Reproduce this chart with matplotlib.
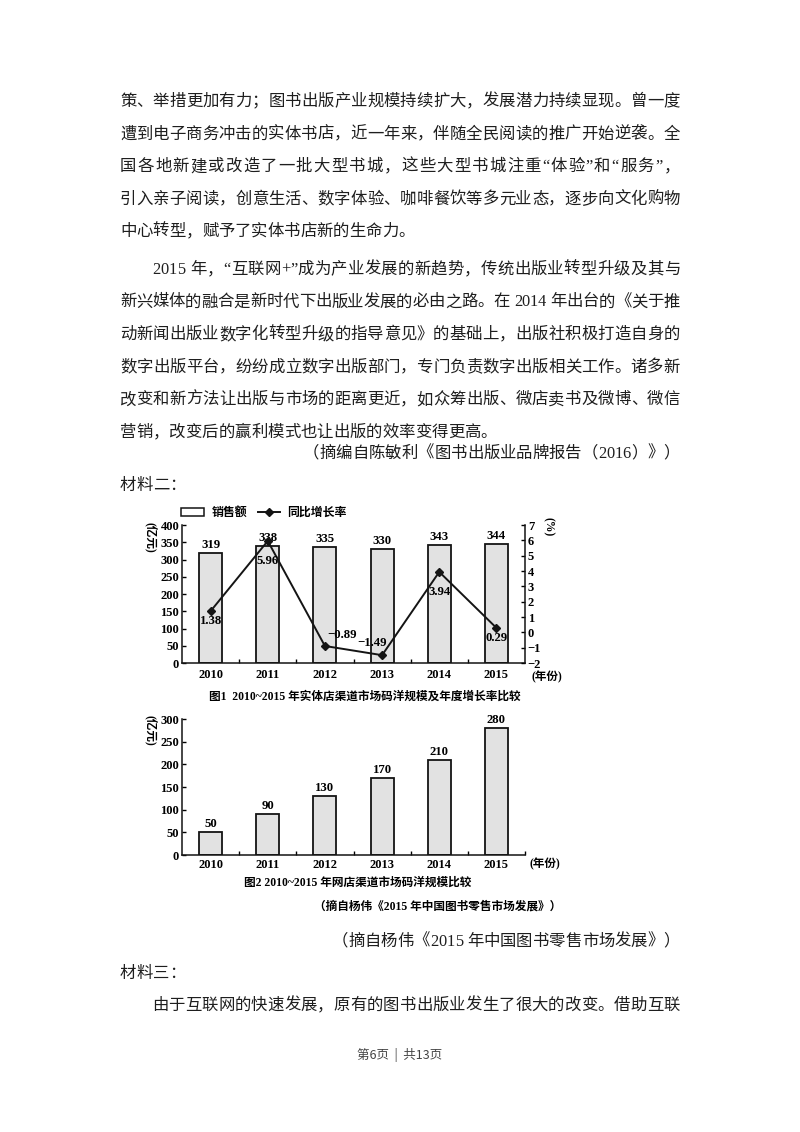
import matplotlib
matplotlib.use('Agg')
import matplotlib.pyplot as plt
from matplotlib.lines import Line2D
from matplotlib.patches import Patch

W, H = 800, 1132

# chart data
years = ['2010', '2011', '2012', '2013', '2014', '2015']
store_sales = [319, 338, 335, 330, 343, 344]
store_growth = [1.38, 5.96, -0.89, -1.49, 3.94, 0.29]
online_sales = [50, 90, 130, 170, 210, 280]
sales_ticks = [0, 50, 100, 150, 200, 250, 300, 350, 400]
growth_ticks = [-2, -1, 0, 1, 2, 3, 4, 5, 6, 7]
online_ticks = [0, 50, 100, 150, 200, 250, 300]

# page text
para1 = ['策、举措更加有力；图书出版产业规模持续扩大，发展潜力持续显现。曾一度',
         '遭到电子商务冲击的实体书店，近一年来，伴随全民阅读的推广开始逆袭。全',
         '国各地新建或改造了一批大型书城，这些大型书城注重“体验”和“服务”，',
         '引入亲子阅读，创意生活、数字体验、咖啡餐饮等多元业态，逐步向文化购物',
         '中心转型，赋予了实体书店新的生命力。']
para2 = ['2015 年，“互联网+”成为产业发展的新趋势，传统出版业转型升级及其与',
         '新兴媒体的融合是新时代下出版业发展的必由之路。在 2014 年出台的《关于推',
         '动新闻出版业数字化转型升级的指导意见》的基础上，出版社积极打造自身的',
         '数字出版平台，纷纷成立数字出版部门，专门负责数字出版相关工作。诸多新',
         '改变和新方法让出版与市场的距离更近，如众筹出版、微店卖书及微博、微信',
         '营销，改变后的赢利模式也让出版的效率变得更高。']
cite1 = '（摘编自陈敏利《图书出版业品牌报告（2016）》）'
label2 = '材料二：'
cite2 = '（摘自杨伟《2015 年中国图书零售市场发展》）'
label3 = '材料三：'
para3 = ['由于互联网的快速发展，原有的图书出版业发生了很大的改变。借助互联']
footer = '第6页  |  共13页'

cap1 = '图1  2010~2015 年实体店渠道市场码洋规模及年度增长率比较'
cap2 = '图2 2010~2015 年网店渠道市场码洋规模比较'
cap_src = '（摘自杨伟《2015 年中国图书零售市场发展》）'

SERIF = ['Liberation Serif', 'Noto Sans CJK SC']
INK = '#1e1e1e'
BODY = 11.8


def fx(x):
    return x / W


def fy(y):
    return 1 - y / H


def char_em(ch):
    o = ord(ch)
    if o >= 0x2E80 or 0x3000 <= o <= 0x303F:
        return 1.0
    if ch == ' ':
        return 0.25
    if ch in '“”':
        return 0.44
    if ch == '+':
        return 0.56
    return 0.5


def put_line(fig, s, x0, yc, x1=None, size=BODY, align='left'):
    em = size * 100 / 72
    widths = [char_em(c) * em for c in s]
    gap = 0.0
    if x1 is not None and align == 'justify' and len(s) > 1:
        gap = (x1 - x0 - sum(widths)) / (len(s) - 1)
    if align == 'right':
        x0 = x1 - sum(widths)
    x = x0
    base = yc + em * 0.36
    for c, w in zip(s, widths):
        if c != ' ':
            fig.text(fx(x), fy(base), c, fontsize=size, family=SERIF,
                     va='baseline', ha='left', color=INK)
        x += w + gap


fig = plt.figure(figsize=(W / 100, H / 100), dpi=100)
fig.patch.set_facecolor('white')

L, R, IND = 120, 680, 152
step = 32.6
y = 100
for i, s in enumerate(para1):
    last = i == len(para1) - 1
    put_line(fig, s, L, y, R, align='left' if last else 'justify')
    y += step
y = 268
for i, s in enumerate(para2):
    last = i == len(para2) - 1
    put_line(fig, s, IND if i == 0 else L, y, R, align='left' if last else 'justify')
    y += step
put_line(fig, cite1, L, 452, R, align='right')
put_line(fig, label2, L, 484)
put_line(fig, cite2, L, 940, R, align='right')
put_line(fig, label3, L, 972)
put_line(fig, para3[0], IND, 1004, R, align='justify')

fig.text(0.5, fy(1055), footer, ha='center', va='center', fontsize=9,
         family=['Noto Sans CJK SC', 'DejaVu Sans'], color='#444444')

# ---- chart 1 ----
TICK = dict(family=['Liberation Serif', 'Noto Sans CJK SC'], weight='bold', size=9)
VAL = dict(family=['Liberation Serif', 'Noto Sans CJK SC'], weight='bold', size=9.2)
CAP = dict(family=['Liberation Serif', 'Noto Sans CJK SC'], weight='bold', size=8.4)
BAR = '#e2e2e2'
EDGE = '#141414'
xs = list(range(len(years)))

ax1 = fig.add_axes([fx(182), fy(663), (525 - 182) / W, 138 / H])
ax1.bar(xs, store_sales, width=0.4, color=BAR, edgecolor=EDGE, linewidth=1.3, zorder=2)
ax1.set_xlim(-0.5, 5.5)
ax1.set_ylim(0, 400)
ax1.set_yticks(sales_ticks)
ax1.set_yticklabels([str(v) for v in sales_ticks], **TICK)
ax1.set_xticks(xs)
ax1.set_xticklabels(years, **TICK)
ax1.set_xticks([i + 0.5 for i in xs[:-1]], minor=True)
ax1.tick_params(axis='x', which='major', length=0, pad=4)
ax1.tick_params(axis='x', which='minor', direction='in', length=3, width=1)
ax1.tick_params(axis='y', direction='in', length=3, width=1, pad=2)
for s in ['top', 'right']:
    ax1.spines[s].set_visible(False)
for s in ['left', 'bottom']:
    ax1.spines[s].set_linewidth(1.1)
    ax1.spines[s].set_color(EDGE)
for i, v in enumerate(store_sales):
    ax1.annotate(str(v), (i, v), xytext=(0, 2), textcoords='offset pixels',
                 ha='center', va='bottom', **VAL)

ax1r = ax1.twinx()
ax1r.set_ylim(-2, 7)
ax1r.set_yticks(growth_ticks)
ax1r.set_yticklabels([str(v).replace('-', '−') for v in growth_ticks], **TICK)
ax1r.tick_params(axis='y', direction='in', length=3, width=1, pad=2)
for s in ['top', 'left', 'bottom']:
    ax1r.spines[s].set_visible(False)
ax1r.spines['right'].set_linewidth(1.1)
ax1r.spines['right'].set_color(EDGE)
ax1r.plot(xs, store_growth, color=EDGE, lw=1.4, marker='D', ms=3.6, zorder=3)
offsets = [(0, -10), (0, -20), (17, 11), (-10, 12), (0, -20), (0, -10)]
for i, (v, off) in enumerate(zip(store_growth, offsets)):
    ax1r.annotate(f'{v:.2f}'.replace('-', '−'), (i, v), xytext=off,
                  textcoords='offset pixels', ha='center', va='center', **VAL)

ax1.legend(handles=[Patch(facecolor='white', edgecolor=EDGE, linewidth=1.1, label='销售额'),
                    Line2D([], [], color=EDGE, lw=1.4, marker='D', ms=3.6, label='同比增长率')],
           ncol=2, loc='lower left', bbox_to_anchor=(-0.005, 1.035), frameon=False,
           prop=dict(family=['Noto Sans CJK SC'], weight='bold', size=8.6),
           handlelength=1.9, handleheight=0.6, handletextpad=0.6, columnspacing=0.9,
           borderaxespad=0, borderpad=0.1)

fig.text(fx(150), fy(537), '(亿元)', rotation=-90, ha='center', va='center', **CAP)
fig.text(fx(548), fy(527), '(%)', rotation=-90, ha='center', va='center', **CAP)
fig.text(fx(547), fy(677), '(年份)', ha='center', va='center', **CAP)
fig.text(fx(365), fy(697), cap1, ha='center', va='center', **CAP)

# ---- chart 2 ----
ax2 = fig.add_axes([fx(182), fy(855), (525 - 182) / W, 136 / H])
ax2.bar(xs, online_sales, width=0.4, color=BAR, edgecolor=EDGE, linewidth=1.3, zorder=2)
ax2.set_xlim(-0.5, 5.5)
ax2.set_ylim(0, 300)
ax2.set_yticks(online_ticks)
ax2.set_yticklabels([str(v) for v in online_ticks], **TICK)
ax2.set_xticks(xs)
ax2.set_xticklabels(years, **TICK)
ax2.set_xticks([i + 0.5 for i in xs], minor=True)
ax2.tick_params(axis='x', which='major', length=0, pad=3)
ax2.tick_params(axis='x', which='minor', direction='in', length=3, width=1)
ax2.tick_params(axis='y', direction='in', length=3, width=1, pad=2)
for s in ['top', 'right']:
    ax2.spines[s].set_visible(False)
for s in ['left', 'bottom']:
    ax2.spines[s].set_linewidth(1.1)
    ax2.spines[s].set_color(EDGE)
for i, v in enumerate(online_sales):
    ax2.annotate(str(v), (i, v), xytext=(0, 2), textcoords='offset pixels',
                 ha='center', va='bottom', **VAL)

fig.text(fx(150), fy(730), '(亿元)', rotation=-90, ha='center', va='center', **CAP)
fig.text(fx(545), fy(864), '(年份)', ha='center', va='center', **CAP)
fig.text(fx(358), fy(883), cap2, ha='center', va='center', **CAP)
fig.text(fx(438), fy(907), cap_src, ha='center', va='center', **CAP)

fig.savefig('out.png', dpi=100, facecolor='white')
